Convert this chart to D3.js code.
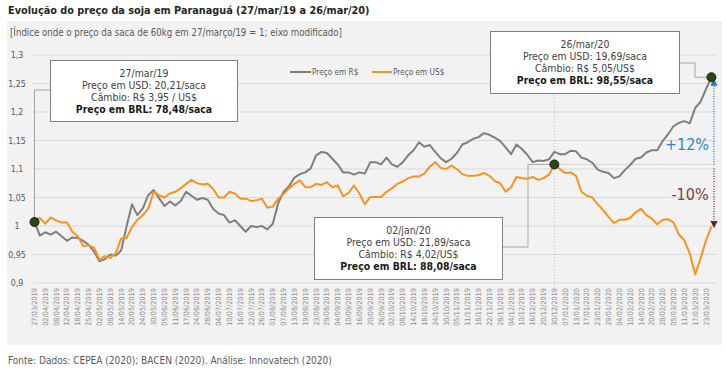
<!DOCTYPE html>
<html>
<head>
<meta charset="utf-8">
<script src="https://cdn.jsdelivr.net/npm/d3@7"></script>
<style>
  body { margin: 0; background: #fff; }
  text { font-family: "DejaVu Sans Condensed", "DejaVu Sans", sans-serif; }
</style>
</head>
<body>
<svg id="chart" width="726" height="374"></svg>
<script>
// tick labels, one every 4 trading days (= every 2 samples)
var tickDates = ["27/03/2019","02/04/2019","08/04/2019","12/04/2019","18/04/2019","25/04/2019","02/05/2019","08/05/2019",
  "14/05/2019","20/05/2019","24/05/2019","30/05/2019","05/06/2019","11/06/2019","17/06/2019","24/06/2019","28/06/2019",
  "04/07/2019","10/07/2019","16/07/2019","22/07/2019","26/07/2019","01/08/2019","07/08/2019","13/08/2019","19/08/2019",
  "23/08/2019","29/08/2019","04/09/2019","10/09/2019","16/09/2019","20/09/2019","26/09/2019","02/10/2019","08/10/2019",
  "14/10/2019","18/10/2019","24/10/2019","30/10/2019","05/11/2019","11/11/2019","18/11/2019","22/11/2019","28/11/2019",
  "04/12/2019","10/12/2019","16/12/2019","20/12/2019","30/12/2019","07/01/2020","13/01/2020","17/01/2020","23/01/2020",
  "29/01/2020","04/02/2020","10/02/2020","14/02/2020","20/02/2020","28/02/2020","05/03/2020","11/03/2020","17/03/2020",
  "23/03/2020"];

// index values, one sample every 2 trading days
var precoBRL = [1.007,0.983,0.989,0.985,0.990,0.982,0.974,0.980,0.979,0.974,
  0.967,0.955,0.938,0.942,0.950,0.948,0.957,0.999,1.038,1.019,
  1.031,1.054,1.063,1.049,1.035,1.043,1.036,1.044,1.060,1.053,
  1.046,1.049,1.046,1.030,1.022,1.019,1.006,1.010,1.000,0.990,
  1.000,0.998,1.000,0.994,1.004,1.040,1.060,1.070,1.085,1.091,
  1.094,1.101,1.124,1.130,1.128,1.118,1.108,1.094,1.094,1.090,
  1.094,1.092,1.112,1.112,1.108,1.120,1.108,1.104,1.112,1.124,
  1.133,1.147,1.139,1.142,1.130,1.119,1.112,1.118,1.128,1.143,
  1.147,1.153,1.156,1.163,1.160,1.155,1.149,1.138,1.126,1.143,
  1.135,1.125,1.112,1.115,1.114,1.117,1.130,1.126,1.126,1.132,
  1.131,1.120,1.117,1.111,1.099,1.095,1.093,1.084,1.087,1.098,
  1.107,1.118,1.120,1.129,1.133,1.133,1.149,1.161,1.175,1.181,
  1.184,1.180,1.207,1.218,1.240,1.261];

var precoUSD = [1.010,1.014,1.004,1.015,1.010,1.006,1.006,0.990,0.982,0.965,
  0.966,0.962,0.941,0.947,0.944,0.952,0.978,0.979,0.998,1.011,
  1.019,1.030,1.060,1.054,1.050,1.057,1.060,1.066,1.074,1.081,
  1.075,1.073,1.074,1.065,1.050,1.050,1.060,1.057,1.048,1.048,
  1.044,1.045,1.048,1.032,1.034,1.048,1.056,1.066,1.074,1.080,
  1.068,1.068,1.074,1.072,1.077,1.068,1.071,1.052,1.058,1.071,
  1.057,1.038,1.051,1.051,1.051,1.060,1.066,1.074,1.078,1.084,
  1.087,1.087,1.092,1.104,1.112,1.102,1.100,1.106,1.100,1.091,
  1.088,1.088,1.089,1.093,1.088,1.079,1.075,1.060,1.068,1.086,
  1.084,1.083,1.086,1.081,1.084,1.090,1.108,1.100,1.093,1.094,
  1.088,1.060,1.053,1.050,1.038,1.028,1.016,1.005,1.011,1.011,
  1.014,1.024,1.030,1.019,1.013,1.003,1.011,1.012,1.006,0.985,
  0.975,0.952,0.915,0.943,0.975,0.999];

var yTicks = [0.9, 0.95, 1, 1.05, 1.1, 1.15, 1.2, 1.25, 1.3];

var notaInicio = ["27/mar/19", "Preço em USD: 20,21/saca", "Câmbio: R$ 3,95 / US$", "Preço em BRL: 78,48/saca"];
var notaJan = ["02/jan/20", "Preço em USD: 21,89/saca", "Câmbio: R$ 4,02/US$", "Preço em BRL: 88,08/saca"];
var notaFim = ["26/mar/20", "Preço em USD: 19,69/saca", "Câmbio: R$ 5,05/US$", "Preço em BRL: 98,55/saca"];

var iInicio = 0, iJan = 96, iFim = precoBRL.length - 1;

var svg = d3.select("#chart");

var x = d3.scaleLinear().domain([0, 124]).range([34.5, 706]);
var y = d3.scaleLinear().domain([0.9, 1.3]).range([283, 55]);
var fmt = function (v) { return d3.format("")(+v.toFixed(2)).replace(".", ","); };

// panel
svg.append("rect").attr("x", 7).attr("y", 21).attr("width", 715).attr("height", 324).style("fill", "#f2f2f2");

// title
svg.append("text").attr("x", 8).attr("y", 14)
  .style("font-size", "10.8px").style("font-weight", "bold").style("fill", "#262626")
  .text("Evolução do preço da soja em Paranaguá (27/mar/19 a 26/mar/20)");

svg.append("text").attr("x", 10).attr("y", 36)
  .style("font-size", "9.6px").style("fill", "#595959")
  .text("[Índice onde o preço da saca de 60kg em 27/março/19 = 1; eixo modificado]");

// grid + y labels
svg.append("g").selectAll("line").data(yTicks).enter().append("line")
  .attr("x1", 33).attr("x2", 716)
  .attr("y1", function (d) { return y(d); }).attr("y2", function (d) { return y(d); })
  .style("stroke", "#d9d9d9").style("stroke-width", 1);

svg.append("g").selectAll("text").data(yTicks).enter().append("text")
  .attr("x", 17).attr("y", function (d) { return y(d) + 3; })
  .attr("text-anchor", "middle")
  .style("font-size", "8.8px").style("fill", "#595959")
  .text(fmt);

// x labels
svg.append("g").selectAll("text").data(tickDates).enter().append("text")
  .attr("transform", function (d, i) { return "translate(" + (x(i * 2) + 2.5) + ",288)rotate(-90)"; })
  .attr("text-anchor", "end")
  .style("font-size", "7.3px").style("fill", "#8c8c8c")
  .text(function (d) { return d; });

// reference dotted lines at 02/jan
svg.append("line")
  .attr("x1", x(iJan)).attr("x2", x(iJan)).attr("y1", 38).attr("y2", 292)
  .style("stroke", "#bfbfbf").style("stroke-dasharray", "1,2");
svg.append("line")
  .attr("x1", x(iJan)).attr("x2", 716).attr("y1", y(precoUSD[iJan])).attr("y2", y(precoUSD[iJan]))
  .style("stroke", "#a6a6a6").style("stroke-dasharray", "1,2");

// series
var line = d3.line()
  .x(function (d, i) { return x(i); })
  .y(function (d) { return y(d); });

svg.append("path").datum(precoBRL).attr("d", line)
  .style("fill", "none").style("stroke", "#7f7f7f").style("stroke-width", 2).style("stroke-linejoin", "round");
svg.append("path").datum(precoUSD).attr("d", line)
  .style("fill", "none").style("stroke", "#f7941d").style("stroke-width", 2).style("stroke-linejoin", "round");

// legend
var lg = svg.append("g").style("font-size", "8.2px").style("fill", "#595959");
lg.append("line").attr("x1", 290).attr("x2", 311).attr("y1", 72).attr("y2", 72).style("stroke", "#7f7f7f").style("stroke-width", 2);
lg.append("text").attr("x", 312).attr("y", 75).text("Preço em R$");
lg.append("line").attr("x1", 372).attr("x2", 392).attr("y1", 72).attr("y2", 72).style("stroke", "#f7941d").style("stroke-width", 2);
lg.append("text").attr("x", 393).attr("y", 75).text("Preço em US$");

// callout connectors
var conn = svg.append("g").style("fill", "none").style("stroke", "#a6a6a6").style("stroke-width", 1);
conn.append("path").attr("d", "M50,90H" + x(iInicio) + "V" + y(precoBRL[iInicio]));
conn.append("path").attr("d", "M502,247H528V" + y(precoUSD[iJan]) + "H" + x(iJan));
conn.append("path").attr("d", "M679,63H695V" + y(precoBRL[iFim]) + "H" + x(iFim));

// callout boxes
function callout(lines, bx, by, bw, bh) {
  var g = svg.append("g");
  g.append("rect").attr("x", bx).attr("y", by).attr("width", bw).attr("height", bh)
    .style("fill", "#fff").style("stroke", "#808080").style("stroke-width", 1);
  g.selectAll("text").data(lines).enter().append("text")
    .attr("x", bx + bw / 2).attr("y", function (d, i) { return by + 16 + i * 12.3; })
    .attr("text-anchor", "middle")
    .style("font-size", "10.4px")
    .style("font-weight", function (d, i) { return i === 3 ? "bold" : "normal"; })
    .style("fill", function (d, i) { return i === 3 ? "#1a1a1a" : "#404040"; })
    .text(function (d) { return d; });
}
callout(notaInicio, 50.5, 60.5, 187, 61);
callout(notaJan, 314.5, 217.5, 188, 62);
callout(notaFim, 490.5, 31.5, 189, 62);

// variation arrows
var defs = svg.append("defs");
defs.append("marker").attr("id", "azul").attr("viewBox", "0 0 10 10").attr("refX", 5).attr("refY", 5)
  .attr("markerWidth", 6).attr("markerHeight", 6).attr("orient", "auto")
  .append("path").attr("d", "M0,0L10,5L0,10Z").style("fill", "#2e75b6");
defs.append("marker").attr("id", "marrom").attr("viewBox", "0 0 10 10").attr("refX", 5).attr("refY", 5)
  .attr("markerWidth", 6).attr("markerHeight", 6).attr("orient", "auto")
  .append("path").attr("d", "M0,0L10,5L0,10Z").style("fill", "#5a2a1a");

var ax = 714;
svg.append("line").attr("x1", ax).attr("x2", ax)
  .attr("y1", y(precoUSD[iJan])).attr("y2", y(precoBRL[iFim]) + 5)
  .style("stroke", "#2e75b6").style("stroke-width", 1.2).style("stroke-dasharray", "1,1.5")
  .attr("marker-end", "url(#azul)");
svg.append("line").attr("x1", ax).attr("x2", ax)
  .attr("y1", y(precoUSD[iJan]) + 4).attr("y2", y(precoUSD[iFim]) - 2)
  .style("stroke", "#5a2a1a").style("stroke-width", 1.2).style("stroke-dasharray", "1,1.5")
  .attr("marker-end", "url(#marrom)");

svg.append("text").attr("x", 687).attr("y", 150).attr("text-anchor", "middle")
  .style("font-size", "16px").style("fill", "#2e86c9").text("+12%");
svg.append("text").attr("x", 690).attr("y", 200).attr("text-anchor", "middle")
  .style("font-size", "16px").style("fill", "#843c3c").text("-10%");

// highlight dots
var pts = [[iInicio, precoBRL[iInicio]], [iJan, precoUSD[iJan]], [iFim, precoBRL[iFim]]];
svg.append("g").selectAll("circle").data(pts).enter().append("circle")
  .attr("cx", function (d) { return x(d[0]); })
  .attr("cy", function (d) { return y(d[1]); })
  .attr("r", 4.5)
  .style("fill", "#2b4516").style("stroke", "#17260b").style("stroke-width", 1);

// footer
svg.append("text").attr("x", 8).attr("y", 364)
  .style("font-size", "10px").style("fill", "#595959")
  .text("Fonte: Dados: CEPEA (2020); BACEN (2020). Análise: Innovatech (2020)");
</script>
</body>
</html>
